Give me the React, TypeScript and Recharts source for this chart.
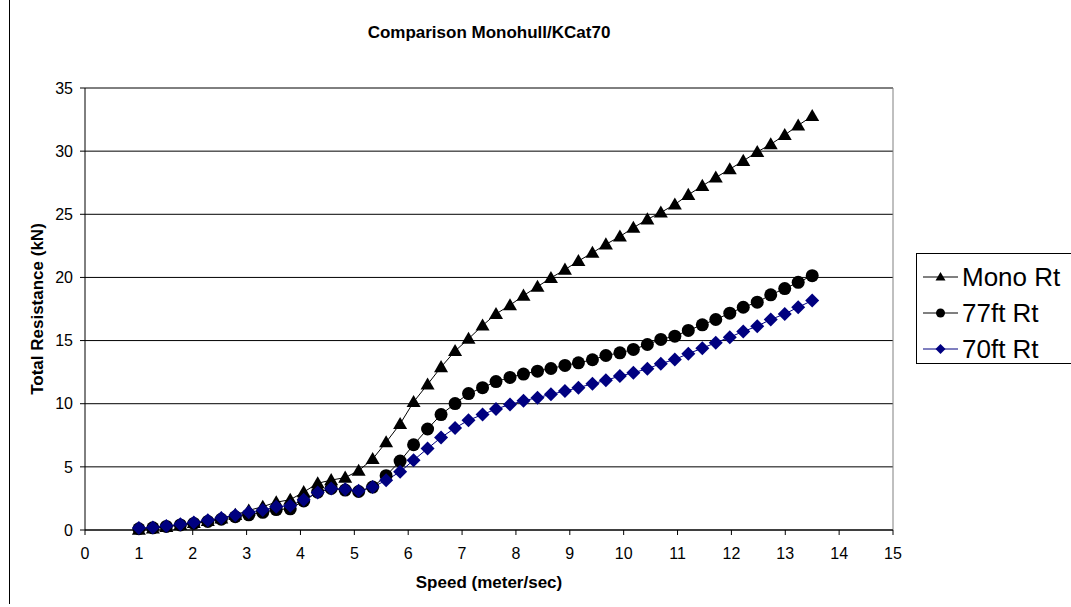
import React from 'react';
import { LineChart, Line, XAxis, YAxis, CartesianGrid, ReferenceLine, Legend } from 'recharts';

// speed (m/s) for each measured point
const speed = [
  1.0, 1.26, 1.51, 1.77, 2.02, 2.28, 2.53, 2.79, 3.04, 3.3,
  3.55, 3.81, 4.06, 4.32, 4.57, 4.83, 5.08, 5.34, 5.59, 5.85,
  6.1, 6.36, 6.61, 6.87, 7.12, 7.38, 7.63, 7.89, 8.14, 8.4,
  8.65, 8.91, 9.16, 9.42, 9.67, 9.93, 10.18, 10.44, 10.69, 10.95,
  11.2, 11.46, 11.71, 11.97, 12.22, 12.48, 12.73, 12.99, 13.24, 13.5,
];

const monoRt = [
  0.02, 0.12, 0.25, 0.4, 0.55, 0.72, 0.92, 1.2, 1.55, 1.85,
  2.2, 2.4, 3.0, 3.7, 3.95, 4.15, 4.7, 5.62, 6.95, 8.4,
  10.14, 11.53, 12.9, 14.17, 15.14, 16.19, 17.11, 17.8, 18.56, 19.27,
  19.96, 20.62, 21.3, 21.95, 22.62, 23.24, 23.94, 24.6, 25.14, 25.78,
  26.54, 27.25, 27.91, 28.57, 29.23, 29.94, 30.54, 31.28, 32.04, 32.78,
];

const ft77Rt = [
  0.1, 0.17, 0.28, 0.4, 0.52, 0.68, 0.85, 1.05, 1.2, 1.4,
  1.62, 1.68, 2.3, 3.0, 3.29, 3.16, 3.05, 3.4, 4.3, 5.46,
  6.75, 8.0, 9.14, 10.01, 10.8, 11.27, 11.75, 12.08, 12.35, 12.58,
  12.79, 13.03, 13.24, 13.48, 13.82, 14.03, 14.3, 14.69, 15.09, 15.35,
  15.8, 16.25, 16.67, 17.17, 17.64, 18.04, 18.62, 19.12, 19.61, 20.14,
];

const ft70Rt = [
  0.15, 0.2, 0.32, 0.45, 0.6, 0.78, 0.96, 1.17, 1.4, 1.58,
  1.84, 1.92, 2.4, 2.97, 3.29, 3.22, 3.1, 3.4, 3.93, 4.61,
  5.53, 6.45, 7.32, 8.08, 8.69, 9.14, 9.58, 9.94, 10.23, 10.48,
  10.74, 11.0, 11.27, 11.58, 11.85, 12.19, 12.45, 12.77, 13.17, 13.51,
  13.96, 14.4, 14.83, 15.27, 15.72, 16.14, 16.67, 17.11, 17.64, 18.17,
];

const xTicks = [0, 1, 2, 3, 4, 5, 6, 7, 8, 9, 10, 11, 12, 13, 14, 15];
const yTicks = [0, 5, 10, 15, 20, 25, 30, 35];
const seriesNames = ['Mono Rt', '77ft Rt', '70ft Rt'];

const chartData = speed.map((s, i) => ({
  speed: s,
  mono: monoRt[i],
  ft77: ft77Rt[i],
  ft70: ft70Rt[i],
}));

const FONT = 'Arial, "Liberation Sans", sans-serif';
const NAVY = '#000080';

const triPath = (cx: number, cy: number, r: number) =>
  `M${cx},${cy - r} L${cx + r},${cy + r * 0.72} L${cx - r},${cy + r * 0.72} Z`;
const diaPath = (cx: number, cy: number, r: number) =>
  `M${cx},${cy - r} L${cx + r},${cy} L${cx},${cy + r} L${cx - r},${cy} Z`;

const triDot = (p: any) => <path key={`t${p.index}`} d={triPath(p.cx, p.cy, 7)} fill="#000" />;
const circDot = (p: any) => <circle key={`c${p.index}`} cx={p.cx} cy={p.cy} r={6.5} fill="#000" />;
const diaDot = (p: any) => <path key={`d${p.index}`} d={diaPath(p.cx, p.cy, 7)} fill={NAVY} />;

const legendMarkers = [
  { color: '#000', mark: <path d={triPath(17.5, 10, 5)} fill="#000" /> },
  { color: '#000', mark: <circle cx={17.5} cy={10} r={4.5} fill="#000" /> },
  { color: NAVY, mark: <path d={diaPath(17.5, 10, 5)} fill={NAVY} /> },
];

const renderLegend = () => (
  <div
    style={{
      border: '1px solid #000',
      background: '#fff',
      boxSizing: 'border-box',
      height: 111,
      width: 170,
      padding: '5px 0 0 6px',
      fontFamily: FONT,
      fontSize: 26,
      lineHeight: '36px',
    }}
  >
    {seriesNames.map((name, i) => (
      <div key={name} style={{ display: 'flex', alignItems: 'center', height: 36 }}>
        <svg width={35} height={20}>
          <line x1={0} y1={10} x2={35} y2={10} stroke={legendMarkers[i].color} strokeWidth={1} />
          {legendMarkers[i].mark}
        </svg>
        <span style={{ marginLeft: 4, color: '#000' }}>{name}</span>
      </div>
    ))}
  </div>
);

export default function App() {
  return (
    <div
      style={{
        position: 'absolute',
        left: 0,
        top: 0,
        width: 1071,
        height: 607,
        overflow: 'hidden',
        background: '#fff',
        fontFamily: FONT,
      }}
    >
      <div style={{ position: 'absolute', left: 9, top: 0, width: 1, height: 604, background: '#000' }} />
      <div
        style={{
          position: 'absolute',
          left: 289,
          width: 400,
          top: 23,
          textAlign: 'center',
          fontWeight: 'bold',
          fontSize: 17,
          color: '#000',
          zIndex: 1,
        }}
      >
        Comparison Monohull/KCat70
      </div>
      <LineChart width={1071} height={607} data={chartData} margin={{ top: 88, right: 178, bottom: 17, left: 25 }}>
        <CartesianGrid vertical={false} stroke="#000" strokeWidth={1} />
        <XAxis
          dataKey="speed"
          type="number"
          domain={[0, 15]}
          ticks={xTicks}
          height={60}
          stroke="#000"
          tickSize={5}
          tickMargin={13}
          tick={{ fill: '#000', fontSize: 16, fontFamily: FONT }}
          label={{
            value: 'Speed (meter/sec)',
            position: 'insideBottom',
            offset: 2,
            style: { fontWeight: 'bold', fontSize: 17, fill: '#000', fontFamily: FONT },
          }}
        />
        <YAxis
          type="number"
          domain={[0, 35]}
          ticks={yTicks}
          width={60}
          stroke="#000"
          tickSize={5}
          tickMargin={7}
          tick={{ fill: '#000', fontSize: 16, fontFamily: FONT }}
          label={{
            value: 'Total Resistance (kN)',
            angle: -90,
            position: 'insideLeft',
            offset: 12,
            style: { fontWeight: 'bold', fontSize: 17, fill: '#000', fontFamily: FONT, textAnchor: 'middle' },
          }}
        />
        <ReferenceLine y={35} stroke="#808080" strokeWidth={1} />
        <ReferenceLine x={15} stroke="#808080" strokeWidth={1} />
        <Legend
          layout="vertical"
          align="center"
          verticalAlign="middle"
          content={renderLegend}
          wrapperStyle={{ left: 916, top: 253, width: 170 }}
        />
        <Line
          dataKey="mono"
          name={seriesNames[0]}
          stroke="#000"
          strokeWidth={1}
          dot={triDot}
          activeDot={false}
          isAnimationActive={false}
        />
        <Line
          dataKey="ft77"
          name={seriesNames[1]}
          stroke="#000"
          strokeWidth={1}
          dot={circDot}
          activeDot={false}
          isAnimationActive={false}
        />
        <Line
          dataKey="ft70"
          name={seriesNames[2]}
          stroke={NAVY}
          strokeWidth={1}
          dot={diaDot}
          activeDot={false}
          isAnimationActive={false}
        />
      </LineChart>
    </div>
  );
}
